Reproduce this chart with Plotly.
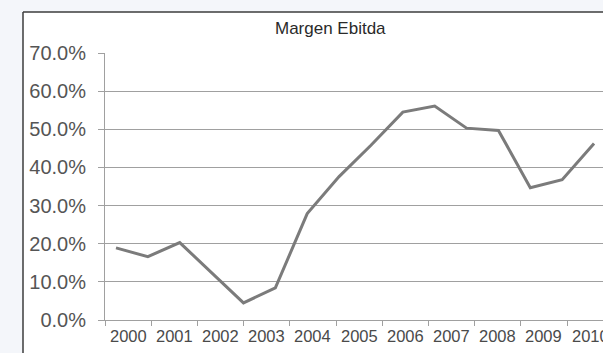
import plotly.graph_objects as go

# Year labels on the category axis
anios = ["2000", "2001", "2002", "2003", "2004", "2005",
         "2006", "2007", "2008", "2009", "2010"]

# EBITDA margin series (%), one value per observation
puntos = list(range(16))
margen = [18.9, 16.6, 20.3, 12.4, 4.5, 8.4, 27.9, 37.6,
          45.8, 54.5, 56.1, 50.3, 49.7, 34.7, 36.8, 46.3]

y_ticks = [0, 10, 20, 30, 40, 50, 60, 70]
y_labels = [f"{v:.1f}%" for v in y_ticks]

W, H = 603, 353
ML, MR, MT, MB = 105, 0, 53, 33
plot_w = W - ML - MR
plot_h = H - MT - MB
cat_w = 46.2                      # pixel width of one year category
n_visible = plot_w / cat_w
font = "Liberation Sans, Arial, sans-serif"
grid = "#a0a0a0"

fig = go.Figure()

# invisible trace so the category axis knows the years
fig.add_trace(go.Scatter(x=anios, y=[0] * len(anios), xaxis="x",
                         mode="markers", marker=dict(opacity=0),
                         showlegend=False, hoverinfo="skip"))

fig.add_trace(go.Scatter(
    x=puntos, y=margen, xaxis="x2", mode="lines",
    line=dict(color="#7b7b7b", width=3), showlegend=False,
))

# year labels centred in each category, 16px under the axis line
year_notes = [dict(
    text=a, xref="paper", yref="paper", x=(i + 0.5) / n_visible,
    y=-16 / plot_h, xanchor="center", yanchor="middle", showarrow=False,
    font=dict(size=16.5, color="#4a4a4a", family=font),
) for i, a in enumerate(anios)]

title_note = dict(
    text="Margen Ebitda", xref="paper", yref="paper",
    x=(330 - ML) / plot_w, y=(H - MB - 28) / plot_h,
    xanchor="center", yanchor="middle", showarrow=False,
    font=dict(size=17, color="#2a2a2a", family=font),
)

fig.update_layout(
    width=W, height=H,
    margin=dict(l=ML, r=MR, t=MT, b=MB),
    paper_bgcolor="white", plot_bgcolor="white",
    font=dict(family=font),
    xaxis=dict(
        type="category", categoryorder="array", categoryarray=anios,
        range=[-0.5, -0.5 + n_visible],
        tickson="boundaries", ticks="outside", ticklen=5, tickcolor=grid,
        showgrid=False, showline=True, linecolor=grid, linewidth=1,
        showticklabels=False, zeroline=False,
    ),
    xaxis2=dict(
        overlaying="x", range=[-11 / 31.87, (W - 116) / 31.87],
        visible=False, showgrid=False, zeroline=False,
    ),
    yaxis=dict(
        range=[0, 70], tickvals=y_ticks, ticktext=y_labels,
        ticks="outside", ticklen=6, tickcolor=grid,
        showgrid=True, gridcolor=grid, gridwidth=1,
        showline=True, linecolor=grid, linewidth=1, zeroline=False,
        tickfont=dict(size=20, color="#555555"),
        ticklabelstandoff=8,
    ),
    annotations=year_notes + [title_note],
    shapes=[
        # area outside the chart frame
        dict(type="rect", xref="paper", yref="paper",
             x0=-ML / plot_w, x1=(23 - ML) / plot_w,
             y0=-MB / plot_h, y1=(H - MB) / plot_h,
             fillcolor="#f4f6fa", line=dict(width=0), layer="below"),
        dict(type="rect", xref="paper", yref="paper",
             x0=-ML / plot_w, x1=1,
             y0=(H - MB - 12) / plot_h, y1=(H - MB) / plot_h,
             fillcolor="#f4f6fa", line=dict(width=0), layer="below"),
        # chart frame
        dict(type="line", xref="paper", yref="paper",
             x0=(23 - ML) / plot_w, x1=(23 - ML) / plot_w,
             y0=-MB / plot_h - 0.1, y1=(H - MB - 12) / plot_h,
             line=dict(color="#3c3c3c", width=1.5)),
        dict(type="line", xref="paper", yref="paper",
             x0=(23 - ML) / plot_w, x1=1.1,
             y0=(H - MB - 12) / plot_h, y1=(H - MB - 12) / plot_h,
             line=dict(color="#3c3c3c", width=1.5)),
    ],
)

fig.write_html("out.html")
